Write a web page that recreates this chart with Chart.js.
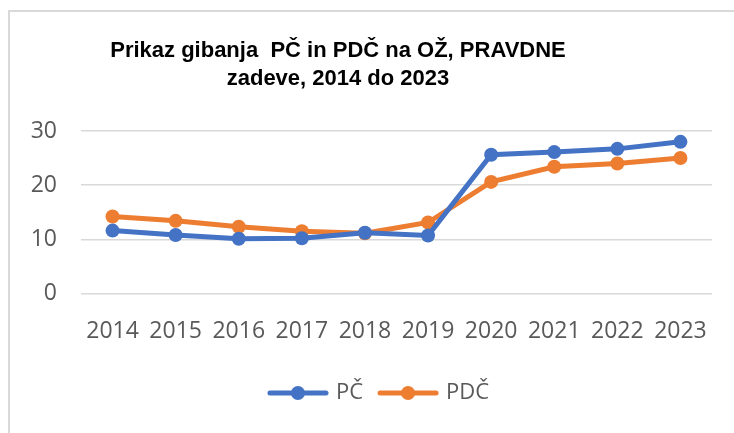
<!DOCTYPE html>
<html>
<head>
<meta charset="utf-8">
<script src="https://cdn.jsdelivr.net/npm/chart.js@4.4.0/dist/chart.umd.min.js"></script>
<style>
  body { margin: 0; background: #fff; }
  #wrap { position: relative; width: 734px; height: 433px; }
  #frame { position: absolute; left: 8px; top: 10px; right: -10px; bottom: -10px;
           border-top: 2px solid #d9d9d9; border-left: 2px solid #d9d9d9; }
</style>
</head>
<body>
<div id="wrap">
  <div id="frame"></div>
  <canvas id="myChart" width="734" height="433"></canvas>
</div>
<script>
// data
const years = ['2014', '2015', '2016', '2017', '2018', '2019', '2020', '2021', '2022', '2023'];
const pcValues = [11.6, 10.8, 10.1, 10.2, 11.2, 10.7, 25.6, 26.1, 26.7, 28.0];
const pdcValues = [14.2, 13.4, 12.3, 11.5, 11.1, 13.1, 20.6, 23.4, 24.0, 25.0];
const seriesNames = ['PČ', 'PDČ'];
const titleLines = ['Prikaz gibanja  PČ in PDČ na OŽ, PRAVDNE', 'zadeve, 2014 do 2023'];

const blue = '#4472c4';
const orange = '#ed7d31';

// legend marker: line with a dot in the middle (excel style)
const makeMarker = (color) => {
  const c = document.createElement('canvas');
  c.width = 62;
  c.height = 16;
  const g = c.getContext('2d');
  g.strokeStyle = color;
  g.lineWidth = 5;
  g.lineCap = 'round';
  g.beginPath();
  g.moveTo(3, 8);
  g.lineTo(59, 8);
  g.stroke();
  g.fillStyle = color;
  g.beginPath();
  g.arc(31, 8, 7, 0, Math.PI * 2);
  g.fill();
  return c;
};
const markers = [makeMarker(blue), makeMarker(orange)];

// title is drawn a bit left of center like in the original
const titlePlugin = {
  id: 'leftTitle',
  afterLayout(chart) {
    // original legend sits a little right of center
    chart.legend.left += 24;
    chart.legend.right += 24;
    chart.legend.top -= 5;
    chart.legend.bottom -= 5;
  },
  afterDraw(chart) {
    const ctx = chart.ctx;
    ctx.save();
    ctx.font = 'bold 22px "Liberation Sans", Arial, sans-serif';
    ctx.fillStyle = '#000';
    ctx.textAlign = 'center';
    ctx.textBaseline = 'middle';
    titleLines.forEach((line, i) => {
      ctx.fillText(line, 338, 51 + i * 28);
    });
    ctx.restore();
  },
};

Chart.defaults.font.family = '"Open Sans", sans-serif';
Chart.defaults.color = '#595959';

const ctx = document.getElementById('myChart');
const chart = new Chart(ctx, {
  type: 'line',
  data: {
    labels: years,
    datasets: [
      {
        label: seriesNames[0],
        data: pcValues,
        borderColor: blue,
        backgroundColor: blue,
        borderWidth: 5,
        pointRadius: 7,
        pointHoverRadius: 7,
        pointBorderWidth: 0,
      },
      {
        label: seriesNames[1],
        data: pdcValues,
        borderColor: orange,
        backgroundColor: orange,
        borderWidth: 5,
        pointRadius: 7,
        pointHoverRadius: 7,
        pointBorderWidth: 0,
      },
    ],
  },
  options: {
    responsive: false,
    animation: false,
    layout: {
      padding: { top: 131, right: 22, bottom: 14, left: 0 },
    },
    plugins: {
      title: { display: false },
      tooltip: { enabled: false },
      legend: {
        position: 'bottom',
        labels: {
          usePointStyle: true,
          pointStyleWidth: 54,
          padding: 18,
          font: { size: 22 },
          color: '#595959',
          generateLabels: (chart) =>
            chart.data.datasets.map((ds, i) => ({
              text: ds.label,
              pointStyle: markers[i],
              fillStyle: ds.borderColor,
              strokeStyle: ds.borderColor,
              lineWidth: 0,
              hidden: false,
              datasetIndex: i,
              fontColor: '#595959',
            })),
        },
      },
    },
    scales: {
      x: {
        offset: true,
        grid: { display: false, drawTicks: false },
        border: { display: false },
        ticks: { padding: 24, font: { size: 23 }, maxRotation: 0, autoSkip: false },
      },
      y: {
        min: 0,
        max: 30,
        grid: { color: '#d9d9d9', lineWidth: 1.5, drawTicks: false },
        border: { display: false },
        ticks: { stepSize: 10, padding: 24, font: { size: 23 } },
        afterFit: (scale) => {
          scale.width = 81;
        },
      },
    },
  },
  plugins: [titlePlugin],
});
</script>
</body>
</html>
